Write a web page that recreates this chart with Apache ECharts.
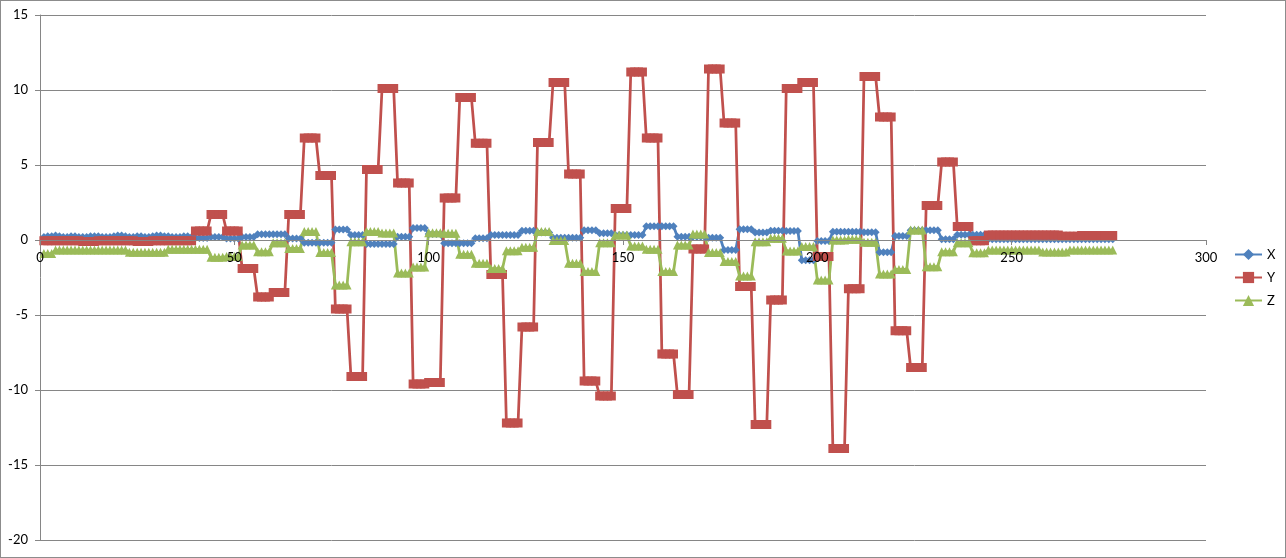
<!DOCTYPE html>
<html>
<head>
<meta charset="utf-8">
<script src="https://cdn.jsdelivr.net/npm/echarts@6/dist/echarts.min.js"></script>
<style>
html,body{margin:0;padding:0;background:#fff;}
#wrap{position:relative;width:1286px;height:558px;}
#chart{position:absolute;left:0;top:0;width:1286px;height:558px;}
#frame{position:absolute;left:0;top:0;width:1286px;height:558px;box-sizing:border-box;border:1px solid #8c8c8c;pointer-events:none;}
</style>
</head>
<body>
<div id="wrap"><div id="chart"></div><div id="frame"></div></div>
<script>
const seriesNames = ['X', 'Y', 'Z'];
const xTicks = [0, 50, 100, 150, 200, 250, 300];
const yTicks = [-20, -15, -10, -5, 0, 5, 10, 15];

const xValues = [
0.2,0.25,0.25,0.3,0.25,0.2,0.2,0.25,0.25,0.2,
0.2,0.2,0.25,0.25,0.25,0.2,0.2,0.2,0.25,0.3,
0.3,0.25,0.2,0.2,0.25,0.25,0.2,0.2,0.25,0.3,
0.3,0.25,0.25,0.2,0.2,0.2,0.25,0.25,0.2,
0.13,0.13,0.13,0.13,
0.2,0.2,0.2,0.2,
0.1,0.1,0.1,0.1,
0.2,0.2,0.2,0.2,
0.38,0.38,0.38,0.38,
0.38,0.38,0.38,0.38,
0.1,0.1,0.1,0.1,
-0.18,-0.18,-0.18,-0.18,
-0.18,-0.18,-0.18,-0.18,
0.7,0.7,0.7,0.7,
0.33,0.33,0.33,0.33,
-0.27,-0.27,-0.27,-0.27,
-0.27,-0.27,-0.27,-0.27,
0.22,0.22,0.22,0.22,
0.8,0.8,0.8,0.8,
0.4,0.4,0.4,0.4,
-0.22,-0.22,-0.22,-0.22,
-0.22,-0.22,-0.22,-0.22,
0.12,0.12,0.12,0.12,
0.33,0.33,0.33,0.33,
0.33,0.33,0.33,0.33,
0.62,0.62,0.62,0.62,
0.5,0.5,0.5,0.5,
0.15,0.15,0.15,0.15,
0.15,0.15,0.15,0.15,
0.65,0.65,0.65,0.65,
0.45,0.45,0.45,0.45,
0.33,0.33,0.33,0.33,
0.33,0.33,0.33,0.33,
0.92,0.92,0.92,0.92,
0.92,0.92,0.92,0.92,
0.22,0.22,0.22,0.22,
0.22,0.22,0.22,0.22,
0.15,0.15,0.15,0.15,
-0.67,-0.67,-0.67,-0.67,
0.72,0.72,0.72,0.72,
0.5,0.5,0.5,0.5,
0.62,0.62,0.62,0.62,
0.6,0.6,0.6,0.6,
-1.35,-1.35,-1.35,-1.35,
-0.07,-0.07,-0.07,-0.07,
0.55,0.55,0.55,0.55,
0.55,0.55,0.55,0.55,
0.52,0.52,0.52,0.52,
-0.82,-0.82,-0.82,-0.82,
0.27,0.27,0.27,0.27,
0.65,0.65,0.65,0.65,
0.65,0.65,0.65,0.65,
0.05,0.05,0.05,0.05,
0.35,0.35,0.35,0.35,
0.35,0.35,0.35,0.35,
0.05,0.05,0.05,0.05,0.05,0.05,0.05,0.05,0.05,0.05,
0.05,0.05,0.05,0.05,0.05,0.05,0.05,0.05,0.05,0.05,
0.05,0.05,0.05,0.05,0.05,0.05,0.05,0.05,0.05,0.05,
0.05,0.05,0.05
];

const yValues = [
-0.05,-0.05,-0.05,-0.05,-0.05,-0.05,-0.05,-0.05,-0.05,-0.05,
-0.1,-0.1,-0.1,-0.1,-0.05,-0.05,-0.05,-0.05,-0.05,-0.05,
-0.05,-0.05,-0.05,-0.05,-0.1,-0.1,-0.1,-0.1,-0.05,-0.05,
-0.05,-0.05,-0.05,-0.05,-0.05,-0.05,-0.05,-0.05,-0.05,
0.6,0.6,0.6,0.6,
1.7,1.7,1.7,1.7,
0.6,0.6,0.6,0.6,
-1.9,-1.9,-1.9,-1.9,
-3.8,-3.8,-3.8,-3.8,
-3.5,-3.5,-3.5,-3.5,
1.7,1.7,1.7,1.7,
6.8,6.8,6.8,6.8,
4.3,4.3,4.3,4.3,
-4.6,-4.6,-4.6,-4.6,
-9.1,-9.1,-9.1,-9.1,
4.7,4.7,4.7,4.7,
10.1,10.1,10.1,10.1,
3.8,3.8,3.8,3.8,
-9.6,-9.6,-9.6,-9.6,
-9.5,-9.5,-9.5,-9.5,
2.8,2.8,2.8,2.8,
9.5,9.5,9.5,9.5,
6.45,6.45,6.45,6.45,
-2.3,-2.3,-2.3,-2.3,
-12.2,-12.2,-12.2,-12.2,
-5.8,-5.8,-5.8,-5.8,
6.5,6.5,6.5,6.5,
10.5,10.5,10.5,10.5,
4.4,4.4,4.4,4.4,
-9.4,-9.4,-9.4,-9.4,
-10.4,-10.4,-10.4,-10.4,
2.1,2.1,2.1,2.1,
11.2,11.2,11.2,11.2,
6.8,6.8,6.8,6.8,
-7.6,-7.6,-7.6,-7.6,
-10.3,-10.3,-10.3,-10.3,
-0.6,-0.6,-0.6,-0.6,
11.4,11.4,11.4,11.4,
7.8,7.8,7.8,7.8,
-3.1,-3.1,-3.1,-3.1,
-12.3,-12.3,-12.3,-12.3,
-4.0,-4.0,-4.0,-4.0,
10.1,10.1,10.1,10.1,
10.5,10.5,10.5,10.5,
-1.1,-1.1,-1.1,-1.1,
-13.9,-13.9,-13.9,-13.9,
-3.25,-3.25,-3.25,-3.25,
10.9,10.9,10.9,10.9,
8.2,8.2,8.2,8.2,
-6.05,-6.05,-6.05,-6.05,
-8.5,-8.5,-8.5,-8.5,
2.3,2.3,2.3,2.3,
5.2,5.2,5.2,5.2,
0.9,0.9,0.9,0.9,
-0.05,-0.05,-0.05,-0.05,
0.33,0.33,0.33,0.33,0.33,0.33,0.33,0.33,0.33,0.33,
0.33,0.33,0.33,0.33,0.33,0.33,0.33,0.33,0.33,
0.25,0.25,0.25,0.25,0.25,
0.3,0.3,0.3,0.3,0.3,0.3,0.3,0.3,0.3
];

const zValues = [
-0.9,-0.9,-0.9,
-0.67,-0.67,-0.67,-0.67,-0.67,-0.67,-0.67,-0.67,-0.67,-0.67,
-0.67,-0.67,-0.67,-0.67,-0.67,-0.67,-0.67,-0.67,-0.67,
-0.82,-0.82,-0.82,-0.82,-0.82,-0.82,-0.82,-0.82,-0.82,-0.82,
-0.62,-0.62,-0.62,-0.62,-0.62,-0.62,-0.62,
-0.62,-0.62,-0.62,-0.62,
-1.15,-1.15,-1.15,-1.15,
-1.1,-1.1,-1.1,-1.1,
-0.33,-0.33,-0.33,-0.33,
-0.78,-0.78,-0.78,-0.78,
-0.18,-0.18,-0.18,-0.18,
-0.56,-0.56,-0.56,-0.56,
0.56,0.56,0.56,0.56,
-0.84,-0.84,-0.84,-0.84,
-3.0,-3.0,-3.0,-3.0,
-0.11,-0.11,-0.11,-0.11,
0.56,0.56,0.56,0.56,
0.47,0.47,0.47,0.47,
-2.2,-2.2,-2.2,-2.2,
-1.8,-1.8,-1.8,-1.8,
0.49,0.49,0.49,0.49,
0.45,0.45,0.45,0.45,
-0.95,-0.95,-0.95,-0.95,
-1.55,-1.55,-1.55,-1.55,
-1.9,-1.9,-1.9,-1.9,
-0.71,-0.71,-0.71,-0.71,
-0.49,-0.49,-0.49,-0.49,
0.56,0.56,0.56,0.56,
-0.04,-0.04,-0.04,-0.04,
-1.55,-1.55,-1.55,-1.55,
-2.1,-2.1,-2.1,-2.1,
-0.18,-0.18,-0.18,-0.18,
0.33,0.33,0.33,0.33,
-0.4,-0.4,-0.4,-0.4,
-0.62,-0.62,-0.62,-0.62,
-2.1,-2.1,-2.1,-2.1,
-0.33,-0.33,-0.33,-0.33,
0.4,0.4,0.4,0.4,
-0.84,-0.84,-0.84,-0.84,
-1.44,-1.44,-1.44,-1.44,
-2.4,-2.4,-2.4,-2.4,
-0.11,-0.11,-0.11,-0.11,
0.11,0.11,0.11,0.11,
-0.73,-0.73,-0.73,-0.73,
-0.44,-0.44,-0.44,-0.44,
-2.67,-2.67,-2.67,-2.67,
0.0,0.0,0.0,0.0,
0.05,0.05,0.05,0.05,
-0.15,-0.15,-0.15,-0.15,
-2.27,-2.27,-2.27,-2.27,
-1.96,-1.96,-1.96,-1.96,
0.67,0.67,0.67,0.67,
-1.78,-1.78,-1.78,-1.78,
-0.78,-0.78,-0.78,-0.78,
-0.18,-0.18,-0.18,-0.18,
-0.85,-0.85,-0.85,-0.85,
-0.67,-0.67,-0.67,-0.67,-0.67,-0.67,-0.67,-0.67,-0.67,-0.67,
-0.67,-0.67,-0.67,-0.67,
-0.8,-0.8,-0.8,-0.8,-0.8,-0.8,-0.8,
-0.67,-0.67,-0.67,-0.67,-0.67,-0.67,-0.67,-0.67,-0.67,-0.67,
-0.67,-0.67
];

const sampleIndex = xValues.map((_, i) => i + 1);

const colors = ['#4F81BD', '#C0504D', '#9BBB59'];
const symbols = ['diamond', 'rect', 'triangle'];
const symbolSizes = [8, 9, 9];
const valueSets = [xValues, yValues, zValues];

const chart = echarts.init(document.getElementById('chart'), null, {renderer: 'canvas'});
const fontFamily = 'Lato, "Open Sans", sans-serif';

const gridTop = 15, gridBottom = 18, chartH = 558;
const plotH = chartH - gridTop - gridBottom;
const yMin = yTicks[0], yMax = yTicks[yTicks.length - 1];
// axis drawn where the value 0 lies (Excel style crossing)
const zeroOffset = -plotH * (0 - yMin) / (yMax - yMin);

const option = {
  animation: false,
  backgroundColor: '#ffffff',
  grid: {left: 40, right: 80, top: gridTop, bottom: gridBottom, containLabel: false},
  legend: {
    orient: 'vertical',
    left: 1229,
    top: 243,
    itemWidth: 27,
    itemHeight: 14,
    itemGap: 10,
    textStyle: {fontFamily: fontFamily, fontSize: 13, color: '#000'},
    data: seriesNames
  },
  xAxis: {
    type: 'value',
    min: xTicks[0],
    max: xTicks[xTicks.length - 1],
    interval: 50,
    offset: zeroOffset,
    z: 10,
    axisLine: {show: true, onZero: false, lineStyle: {color: '#868686', width: 1}},
    axisTick: {show: true, length: 5, lineStyle: {color: '#868686'}},
    axisLabel: {fontFamily: fontFamily, fontSize: 13, color: '#000', margin: 11},
    splitLine: {show: false}
  },
  yAxis: {
    type: 'value',
    min: yMin,
    max: yMax,
    interval: 5,
    axisLine: {show: true, onZero: false, lineStyle: {color: '#868686', width: 1}},
    axisTick: {show: true, length: 5, lineStyle: {color: '#868686'}},
    axisLabel: {fontFamily: fontFamily, fontSize: 13, color: '#000', margin: 12},
    splitLine: {show: true, lineStyle: {color: '#868686', width: 1}}
  },
  series: seriesNames.map((name, s) => ({
    name: name,
    type: 'line',
    data: sampleIndex.map((x, i) => [x, valueSets[s][i]]),
    symbol: symbols[s],
    symbolSize: symbolSizes[s],
    showAllSymbol: true,
    itemStyle: {color: colors[s]},
    lineStyle: {color: colors[s], width: 2.75},
    emphasis: {disabled: true}
  }))
};
chart.setOption(option);
</script>
</body>
</html>
